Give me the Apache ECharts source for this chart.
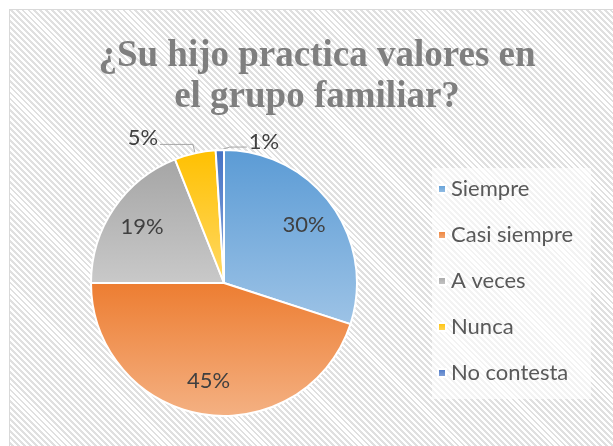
<!DOCTYPE html>
<html>
<head>
<meta charset="utf-8">
<title>Valores en el grupo familiar</title>
<script src="https://cdn.jsdelivr.net/npm/echarts@6/dist/echarts.min.js"></script>
<style>
    html, body { margin: 0; padding: 0; background: #fff; overflow: hidden; }
    #fondo {
        position: absolute; left: 9px; top: 9px; width: 640px; height: 470px;
        border-left: 1px solid #d9d9d9; border-top: 1px solid #d9d9d9;
        background: repeating-linear-gradient(45deg, #e0e0e0 0px, #e0e0e0 2px, #ffffff 2px, #ffffff 4.2px);
    }
    #GraficoValores { position: absolute; left: 0; top: 0; width: 613px; height: 446px; }
</style>
</head>
<body>
<div id="fondo"></div>
<div id="GraficoValores"></div>
<script>
// datos de la encuesta
var categorias = ['Siempre', 'Casi siempre', 'A veces', 'Nunca', 'No contesta'];
var porcentajes = [30, 45, 19, 5, 1];

// colores (arriba / abajo del degradado)
var coloresArriba = ['#5b9bd5', '#ed7d31', '#a5a5a5', '#ffc000', '#4472c4'];
var coloresAbajo = ['#9dc3e6', '#f4b183', '#c9c9c9', '#ffd966', '#8faadc'];

function degradado(i) {
    return new echarts.graphic.LinearGradient(0, 0, 0, 1, [
        {offset: 0, color: coloresArriba[i]},
        {offset: 1, color: coloresAbajo[i]}
    ]);
}

var centro = [224, 283];
var radio = 133;
var fuente = 'Lato, "Open Sans", sans-serif';

var datosTorta = categorias.map(function (c, i) {
    var chico = porcentajes[i] < 10;
    return {
        name: c,
        value: porcentajes[i],
        itemStyle: {color: degradado(i)},
        label: {show: chico},
        labelLine: {show: chico}
    };
});

var datosEtiquetas = categorias.map(function (c, i) {
    return {name: c, value: porcentajes[i], label: {show: porcentajes[i] >= 10}};
});

var option = {
    backgroundColor: 'transparent',
    animation: false,
    title: {
        text: '¿Su hijo practica valores en\nel grupo familiar?',
        left: 317,
        top: 36,
        textAlign: 'center',
        padding: 0,
        textStyle: {
            fontFamily: '"Liberation Serif", serif',
            fontWeight: 'bold',
            fontSize: 37,
            lineHeight: 41,
            color: '#7f7f7f'
        }
    },
    legend: {
        orient: 'vertical',
        left: 432,
        top: 168,
        icon: 'rect',
        itemWidth: 8,
        itemHeight: 8,
        itemGap: 24,
        itemTextGap: 7,
        padding: [10, 18, 15, 5],
        backgroundColor: 'rgba(255,255,255,0.6)',
        textStyle: {color: '#595959', fontSize: 22, fontFamily: fuente, lineHeight: 20},
        data: categorias
    },
    series: [{
        name: 'valores',
        type: 'pie',
        center: centro,
        radius: radio,
        startAngle: 90,
        clockwise: true,
        avoidLabelOverlap: false,
        emphasis: {disabled: true},
        itemStyle: {borderColor: '#ffffff', borderWidth: 2},
        label: {
            position: 'outside',
            formatter: '{c}%',
            color: '#404040',
            fontSize: 22,
            fontFamily: fuente,
            distanceToLabelLine: 2
        },
        labelLine: {length: 9, length2: 33, smooth: false, lineStyle: {color: '#a6a6a6', width: 1}},
        labelLayout: function (p) {
            if (p.seriesIndex !== 0 || !p.labelLinePoints) return {};
            var a = p.labelLinePoints[0];
            if (p.dataIndex === 4) {
                // la etiqueta del 1% va a la derecha, como en el original
                var y = p.labelLinePoints[1][1] + 6;
                var fin = a[0] + 27;
                return {
                    x: fin + 2, y: y - 5, align: 'left', verticalAlign: 'middle',
                    labelLinePoints: [a, [a[0] + 10, y], [fin, y]]
                };
            }
            return {dy: -7};
        },
        data: datosTorta
    }, {
        name: 'etiquetas',
        type: 'pie',
        center: centro,
        radius: [59, radio],
        startAngle: 90,
        clockwise: true,
        silent: true,
        avoidLabelOverlap: false,
        itemStyle: {color: 'transparent', borderWidth: 0},
        label: {
            position: 'inside',
            formatter: '{c}%',
            color: '#404040',
            fontSize: 22,
            fontFamily: fuente
        },
        labelLine: {show: false},
        data: datosEtiquetas
    }]
};

var myChart = echarts.init(document.getElementById('GraficoValores'));
myChart.setOption(option);
</script>
</body>
</html>
